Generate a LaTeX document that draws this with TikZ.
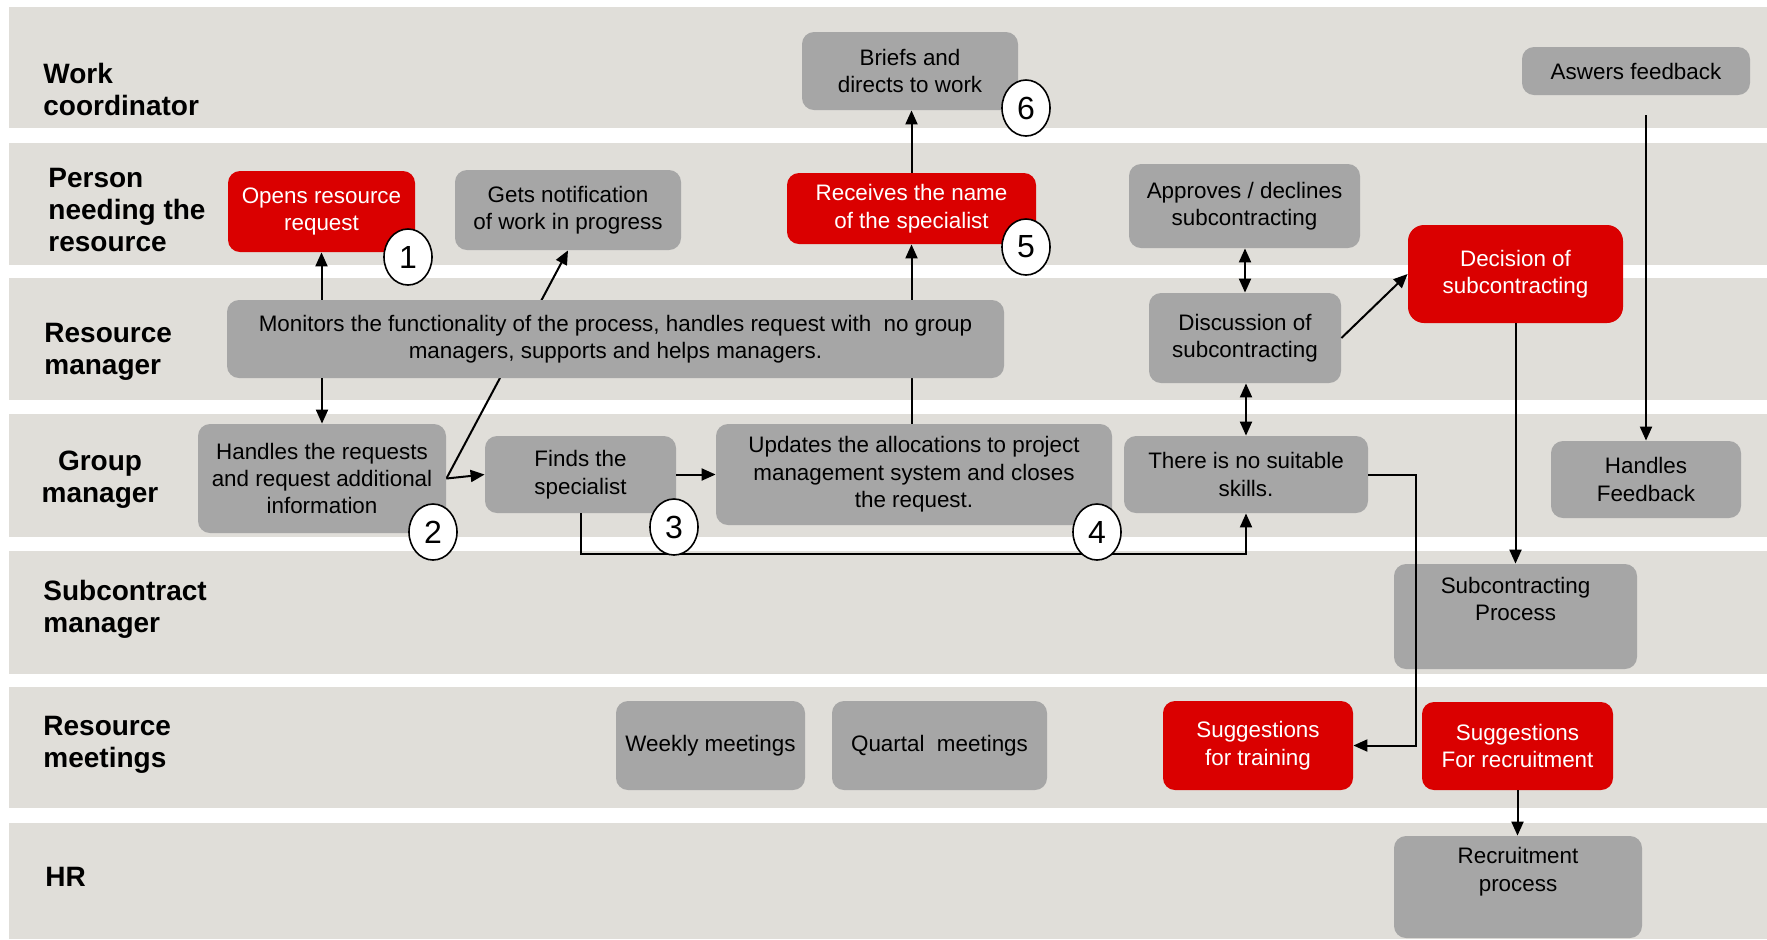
\documentclass[tikz,border=0pt]{standalone}
\usepackage{fontspec}
\setmainfont{Liberation Sans}
\usetikzlibrary{arrows.meta,shapes.geometric}
\pgfdeclarelayer{lanes}
\pgfdeclarelayer{behind}
\pgfsetlayers{lanes,behind,main}

\definecolor{lanefill}{RGB}{224,222,217}
\definecolor{boxgray}{RGB}{166,166,166}
\definecolor{boxred}{RGB}{218,0,0}

\begin{document}
\begin{tikzpicture}[x=0.5pt,y=-0.5pt,
  lanelabel/.style={font=\fontsize{14}{16}\selectfont\bfseries, align=left, anchor=west, inner sep=0pt},
  box/.style={rounded corners=6pt, inner sep=2pt, align=center, font=\fontsize{11.2}{13.7}\selectfont},
  gbox/.style={box, fill=boxgray, text=black},
  rbox/.style={box, fill=boxred, text=white},
  num/.style={ellipse, draw=black, line width=0.8pt, fill=white, minimum width=24pt, minimum height=28pt, inner sep=0pt, font=\fontsize{16}{16}\selectfont},
  tip/.tip={Triangle[length=7pt,width=6pt]},
  arr/.style={line width=1pt, -tip},
  darr/.style={line width=1pt, tip-tip}
]
\useasboundingbox (0,0) rectangle (1767,939);

% swim lanes
\begin{pgfonlayer}{lanes}
  \fill[white] (0,0) rectangle (1767,939);
  \fill[lanefill] (9,7)   rectangle (1767,128);
  \fill[lanefill] (9,143) rectangle (1767,265);
  \fill[lanefill] (9,278) rectangle (1767,400);
  \fill[lanefill] (9,414) rectangle (1767,537);
  \fill[lanefill] (9,551) rectangle (1767,674);
  \fill[lanefill] (9,687) rectangle (1767,808);
  \fill[lanefill] (9,823) rectangle (1767,939);
\end{pgfonlayer}

% lane titles
\node[lanelabel] (lwork) at (43,89) {Work\\coordinator};
\node[lanelabel] (lperson) at (48,210) {Person\\needing the\\resource};
\node[lanelabel] (lresmgr) at (44,352) {Resource\\manager};
\node[lanelabel, anchor=center, align=center] (lgroup) at (100,480) {Group\\manager};
\node[lanelabel] (lsub) at (43,609) {Subcontract\\manager};
\node[lanelabel] (lmeet) at (43,745) {Resource\\meetings};
\node[lanelabel] (lhr) at (45,877) {HR};

% process steps
\node[gbox, minimum width=108pt, minimum height=39pt] (briefs) at (910,71) {Briefs and\\directs to work};
\node[gbox, minimum width=114pt, minimum height=24pt] (aswers) at (1636,71) {Aswers feedback};
\node[rbox, minimum width=93.5pt, minimum height=40.5pt] (opens) at (321.5,211.5) {Opens resource\\request};
\node[gbox, minimum width=113pt, minimum height=40pt] (gets) at (568,210) {Gets notification\\of work in progress};
\node[rbox, minimum width=124.5pt, minimum height=35.5pt] (receives) at (911.5,208.5) {Receives the name\\of the specialist};
\node[gbox, minimum width=115.5pt, minimum height=42pt] (approves) at (1244.5,206) {Approves / declines\\subcontracting};
\node[rbox, minimum width=107.5pt, minimum height=49pt, rounded corners=8pt] (decision) at (1515.5,274) {Decision of\\subcontracting};
\node[gbox, minimum width=388.5pt, minimum height=39pt] (monitors) at (615.5,339) {Monitors the functionality of the process, handles request with~ no group\\managers, supports and helps managers.};
\node[gbox, minimum width=96pt, minimum height=45pt] (discussion) at (1245,338) {Discussion of\\subcontracting};
\node[gbox, minimum width=124pt, minimum height=54.5pt] (handles) at (322,478.5) {Handles the requests\\and request additional\\information};
\node[gbox, minimum width=95.5pt, minimum height=38.5pt] (finds) at (580.5,474.5) {Finds the\\specialist};
\node[gbox, minimum width=198pt, minimum height=50.5pt] (updates) at (914,474.5) {Updates the allocations to project\\management system and closes\\the request.};
\node[gbox, minimum width=122pt, minimum height=38.5pt] (nosuit) at (1246,474.5) {There is no suitable\\skills.};
\node[gbox, minimum width=95pt, minimum height=38.5pt] (hfeed) at (1646,479.5) {Handles\\Feedback};
\node[gbox, minimum width=121.5pt, minimum height=52.5pt] (subproc) at (1515.5,616.5) {Subcontracting\\Process\\\strut};
\node[gbox, minimum width=94.5pt, minimum height=44.5pt] (weekly) at (710.5,745.5) {Weekly meetings};
\node[gbox, minimum width=107.5pt, minimum height=44.5pt] (quartal) at (939.5,745.5) {Quartal~ meetings};
\node[rbox, minimum width=95pt, minimum height=44.5pt] (training) at (1258,745.5) {Suggestions\\for training};
\node[rbox, minimum width=95.5pt, minimum height=44pt] (recruit) at (1517.5,746) {Suggestions\\For recruitment};
\node[gbox, minimum width=124pt, minimum height=51pt] (recproc) at (1518,887) {Recruitment\\process\\\strut};

% connectors running underneath the wide monitoring box
\begin{pgfonlayer}{behind}
  \draw[arr] (handles.east) -- (gets.south);
  \draw[arr] (updates.north -| receives.south) -- (receives.south);
\end{pgfonlayer}

% connectors
\draw[arr] (monitors.north -| opens.south) -- (opens.south);
\draw[arr] (monitors.south -| handles.north) -- (handles.north);
\draw[arr] (handles.east) -- (finds.west);
\draw[arr] (finds.east) -- (updates.west);
\draw[arr] (receives.north) -- (briefs.south -| receives.north);
\draw[arr] (finds.south) -- (finds.south |- 0,554) -| (nosuit.south);
\draw[darr] (nosuit.north) -- (discussion.south -| nosuit.north);
\draw[darr] (discussion.north) -- (approves.south -| discussion.north);
\draw[arr] (discussion.east) -- (decision.west);
\draw[arr] (decision.south) -- (subproc.north -| decision.south);
\coordinate (fbstart) at (1646,115);
\draw[arr] (fbstart) -- (hfeed.north);
\draw[arr] (nosuit.east) -- (1416,474.5) |- (training.east);
\draw[arr] (recruit.south) -- (recproc.north -| recruit.south);

% step numbers
\node[num] (n1) at (408,257) {1};
\node[num] (n2) at (433,532) {2};
\node[num] (n3) at (674,527) {3};
\node[num] (n4) at (1097,532) {4};
\node[num] (n5) at (1026,247) {5};
\node[num] (n6) at (1026,108) {6};
\end{tikzpicture}
\end{document}
